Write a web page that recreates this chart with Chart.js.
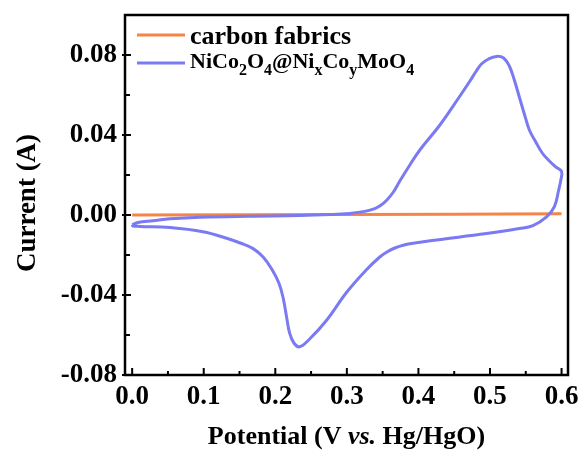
<!DOCTYPE html>
<html>
<head>
<meta charset="utf-8">
<script src="https://cdn.jsdelivr.net/npm/chart.js@4/dist/chart.umd.min.js"></script>
<style>
  html, body { margin: 0; padding: 0; background: #fff; }
  #wrap { width: 582px; height: 452px; }
</style>
</head>
<body>
<div id="wrap"><canvas id="cv-chart" width="582" height="452"></canvas></div>
<script>
// CV loop of NiCo2O4@NixCoyMoO4 (forward scan then reverse scan)
const cvPotential = [
  0.000, 0.008, 0.029, 0.053, 0.095, 0.165, 0.234, 0.276, 0.304, 0.325,
  0.339, 0.348, 0.356, 0.365, 0.374, 0.388, 0.402, 0.430, 0.458, 0.472,
  0.480, 0.488, 0.498, 0.509, 0.519, 0.527, 0.534, 0.541, 0.548, 0.555,
  0.564, 0.573, 0.583, 0.592, 0.600,
  0.599, 0.596, 0.590, 0.579, 0.560, 0.541, 0.495, 0.425, 0.395, 0.380,
  0.367, 0.356, 0.346, 0.327, 0.300, 0.272, 0.248, 0.234, 0.226, 0.220,
  0.216, 0.211, 0.205, 0.195, 0.183, 0.169, 0.151, 0.132, 0.099, 0.053,
  0.011, 0.001, 0.000,
];
const cvCurrent = [
  -0.0048, -0.0038, -0.0029, -0.0019, -0.0011, -0.0006, -0.0003, 0.0002, 0.0008, 0.0018,
  0.0032, 0.0050, 0.0075, 0.0115, 0.0170, 0.0250, 0.0325, 0.0450, 0.0595, 0.0670,
  0.0715, 0.0755, 0.0780, 0.0793, 0.0785, 0.0745, 0.0675, 0.0590, 0.0505, 0.0425,
  0.0365, 0.0310, 0.0270, 0.0240, 0.0218,
  0.0175, 0.0125, 0.0042, -0.0009, -0.0053, -0.0068, -0.0093, -0.0125, -0.0140, -0.0150,
  -0.0165, -0.0185, -0.0210, -0.0275, -0.0385, -0.0525, -0.0620, -0.0659, -0.0640, -0.0590,
  -0.0515, -0.0415, -0.0340, -0.0270, -0.0210, -0.0168, -0.0140, -0.0116, -0.0084, -0.0063,
  -0.0057, -0.0055, -0.0048,
];

// bare carbon fabrics, nearly flat
const cfPotential = [0.000, 0.150, 0.300, 0.450, 0.600];
const cfCurrent = [0.0000, 0.0001, 0.0002, 0.0004, 0.0006];

const xTicks = [0.0, 0.1, 0.2, 0.3, 0.4, 0.5, 0.6];
const yTicks = [-0.08, -0.04, 0.0, 0.04, 0.08];

const BLUE = 'rgb(122, 122, 242)';
const ORANGE = 'rgb(245, 132, 72)';
const FONT = "'Liberation Serif', 'Times New Roman', serif";

const toPoints = (xs, ys) => xs.map((x, i) => ({ x, y: ys[i] }));

// box, inward ticks, axis titles and the legend with subscripts
const decorations = {
  id: 'decorations',
  afterDraw(chart) {
    const { ctx, chartArea: a, scales } = chart;
    const x = scales.x;
    const y = scales.y;
    ctx.save();
    ctx.strokeStyle = '#000';
    ctx.lineWidth = 2.5;
    ctx.strokeRect(a.left, a.top, a.right - a.left, a.bottom - a.top);

    ctx.lineWidth = 2;
    ctx.beginPath();
    xTicks.forEach((v, i) => {
      const px = x.getPixelForValue(v);
      ctx.moveTo(px, a.bottom);
      ctx.lineTo(px, a.bottom - 7);
      if (i < xTicks.length - 1) {
        const mx = x.getPixelForValue(v + 0.05);
        ctx.moveTo(mx, a.bottom);
        ctx.lineTo(mx, a.bottom - 4);
      }
    });
    yTicks.forEach((v) => {
      const py = y.getPixelForValue(v);
      ctx.moveTo(a.left - 3, py);
      ctx.lineTo(a.left + 6, py);
      const my = y.getPixelForValue(v + 0.02);
      ctx.moveTo(a.left, my);
      ctx.lineTo(a.left + 5, my);
    });
    ctx.stroke();

    // axis titles
    ctx.fillStyle = '#000';
    ctx.textBaseline = 'alphabetic';
    const parts = [
      ['bold 26px ' + FONT, 'Potential (V '],
      ['italic bold 26px ' + FONT, 'vs.'],
      ['bold 26px ' + FONT, ' Hg/HgO)'],
    ];
    let total = 0;
    parts.forEach(([f, t]) => { ctx.font = f; total += ctx.measureText(t).width; });
    let tx = (a.left + a.right) / 2 - total / 2;
    parts.forEach(([f, t]) => {
      ctx.font = f;
      ctx.textAlign = 'left';
      ctx.fillText(t, tx, 444);
      tx += ctx.measureText(t).width;
    });

    ctx.save();
    ctx.translate(35, 203);
    ctx.rotate(-Math.PI / 2);
    ctx.font = 'bold 27px ' + FONT;
    ctx.textAlign = 'center';
    ctx.fillText('Current (A)', 0, 0);
    ctx.restore();

    // legend
    ctx.lineWidth = 3;
    ctx.strokeStyle = ORANGE;
    ctx.beginPath();
    ctx.moveTo(137, 35);
    ctx.lineTo(185, 35);
    ctx.stroke();
    ctx.strokeStyle = BLUE;
    ctx.beginPath();
    ctx.moveTo(137, 63);
    ctx.lineTo(185, 63);
    ctx.stroke();

    ctx.textAlign = 'left';
    ctx.font = 'bold 26px ' + FONT;
    ctx.fillText('carbon fabrics', 190, 44);

    const label = [
      ['Ni', 0], ['Co', 0], ['2', 1], ['O', 0], ['4', 1], ['@Ni', 0], ['x', 1],
      ['Co', 0], ['y', 1], ['MoO', 0], ['4', 1],
    ];
    let lx = 190;
    label.forEach(([t, sub]) => {
      ctx.font = sub ? 'bold 16px ' + FONT : 'bold 22px ' + FONT;
      ctx.fillText(t, lx, sub ? 75 : 68);
      lx += ctx.measureText(t).width;
    });
    ctx.restore();
  },
};

new Chart(document.getElementById('cv-chart'), {
  type: 'scatter',
  data: {
    datasets: [
      {
        label: 'NiCo2O4@NixCoyMoO4',
        data: toPoints(cvPotential, cvCurrent),
        showLine: true,
        borderColor: BLUE,
        borderWidth: 3,
        pointRadius: 0,
        tension: 0.4,
      },
      {
        label: 'carbon fabrics',
        data: toPoints(cfPotential, cfCurrent),
        showLine: true,
        borderColor: ORANGE,
        borderWidth: 3,
        pointRadius: 0,
      },
    ],
  },
  options: {
    responsive: false,
    animation: false,
    layout: { padding: { top: 15, right: 14, left: 0, bottom: 0 } },
    plugins: {
      legend: { display: false },
      tooltip: { enabled: false },
    },
    scales: {
      x: {
        type: 'linear',
        min: -0.01,
        max: 0.609,
        afterFit: (s) => { s.height = 77; s.paddingLeft = 0; s.paddingRight = 0; },
        afterBuildTicks: (s) => { s.ticks = xTicks.map((value) => ({ value })); },
        grid: { display: false, drawTicks: false },
        border: { display: false },
        ticks: {
          padding: 6,
          color: '#000',
          font: { family: FONT, size: 27, weight: 'bold' },
          callback: (v) => Number(v).toFixed(1),
        },
      },
      y: {
        type: 'linear',
        min: -0.08,
        max: 0.1,
        afterFit: (s) => { s.width = 125; s.paddingTop = 0; s.paddingBottom = 0; },
        afterBuildTicks: (s) => { s.ticks = yTicks.map((value) => ({ value })); },
        grid: { display: false, drawTicks: false },
        border: { display: false },
        ticks: {
          padding: 8,
          color: '#000',
          font: { family: FONT, size: 27, weight: 'bold' },
          callback: (v) => Number(v).toFixed(2),
        },
      },
    },
  },
  plugins: [decorations],
});
</script>
</body>
</html>
